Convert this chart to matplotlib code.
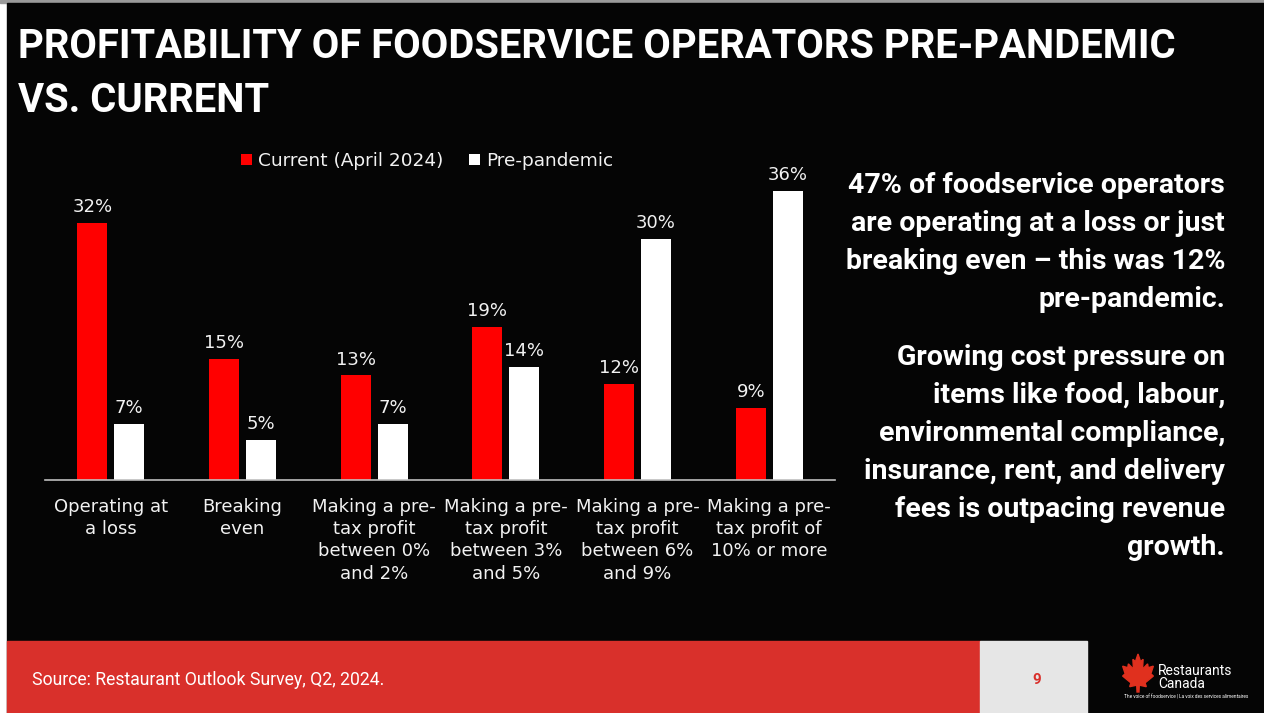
import matplotlib
matplotlib.use("Agg")
import matplotlib.pyplot as plt
from matplotlib.patches import Rectangle, Polygon
import numpy as np

categories = [
    "Operating at\na loss",
    "Breaking\neven",
    "Making a pre-\ntax profit\nbetween 0%\nand 2%",
    "Making a pre-\ntax profit\nbetween 3%\nand 5%",
    "Making a pre-\ntax profit\nbetween 6%\nand 9%",
    "Making a pre-\ntax profit of\n10% or more",
]
current = [32, 15, 13, 19, 12, 9]
pre_pandemic = [7, 5, 7, 14, 30, 36]
series_names = ["Current (April 2024)", "Pre-pandemic"]

title_lines = ["PROFITABILITY OF FOODSERVICE OPERATORS PRE-PANDEMIC", "VS. CURRENT"]
note_1 = [
    "47% of foodservice operators",
    "are operating at a loss or just",
    "breaking even \u2013 this was 12%",
    "pre-pandemic.",
]
note_2 = [
    "Growing cost pressure on",
    "items like food, labour,",
    "environmental compliance,",
    "insurance, rent, and delivery",
    "fees is outpacing revenue",
    "growth.",
]
source = "Source: Restaurant Outlook Survey, Q2, 2024."
page = "9"

W, H = 1264, 713
RED = "#ff0000"
BAND = "#d9302b"
TXT = "#f2f2f2"
HEAD = ["Roboto", "DejaVu Sans"]

fig = plt.figure(figsize=(W / 100, H / 100), dpi=100, facecolor="white")


def px(x, y):
    # pixel position (from top-left) to figure fraction
    return x / W, 1 - y / H


def box(x0, y0, w, h, color, z):
    fig.patches.append(Rectangle((x0 / W, y0 / H), w / W, h / H,
                                 transform=fig.transFigure, color=color, zorder=z))


# slide background, footer band and page box
box(0, H - 3, W, 3, "#9a9a9a", -10)
box(7, 0, W - 7, H - 3, "#050505", -10)
box(7, 0, 973, 72, BAND, -9)
box(980, 0, 107, 72, "#e6e6e6", -9)

# title
for i, line in enumerate(title_lines):
    fig.text(*px(18, 58 + i * 54), line, color="white", fontsize=28.85,
             fontweight="bold", family=HEAD, ha="left", va="baseline")

# bar chart
ax = fig.add_axes([45 / W, (H - 480) / H, 790 / W, 320 / H], zorder=5)
ax.set_facecolor("none")
x = np.arange(len(categories))
w = 0.228
b1 = ax.bar(x - 0.14, current, w, color=RED, label=series_names[0], zorder=2)
b2 = ax.bar(x + 0.14, pre_pandemic, w, color="white", label=series_names[1], zorder=2)
for bars, vals in ((b1, current), (b2, pre_pandemic)):
    for rect, v in zip(bars, vals):
        ax.annotate(f"{v}%", (rect.get_x() + rect.get_width() / 2, v),
                    xytext=(0, 5), textcoords="offset points",
                    ha="center", va="bottom", color=TXT, fontsize=13)

ax.set_xlim(-0.5, len(categories) - 0.5)
ax.set_ylim(0, 39.8)
ax.set_yticks([])
for s in ("top", "left", "right"):
    ax.spines[s].set_visible(False)
ax.spines["bottom"].set_color("#bfbfbf")
ax.spines["bottom"].set_linewidth(1.2)
ax.set_xticks(x)
ax.set_xticklabels(categories, color=TXT, fontsize=13, linespacing=1.3)
ax.tick_params(axis="x", length=0, pad=13)

fig.legend(handles=[b1, b2], loc="center", bbox_to_anchor=px(427, 161), ncol=2,
           frameon=False, fontsize=13.3, labelcolor=TXT, handlelength=0.6,
           handleheight=0.6, handletextpad=0.3, columnspacing=1.4)

# side notes
for i, line in enumerate(note_1):
    fig.text(*px(1225, 193 + i * 38), line, color="white", fontsize=20.5,
             fontweight="bold", family=HEAD, ha="right", va="baseline")
for i, line in enumerate(note_2):
    fig.text(*px(1225, 365 + i * 38), line, color="white", fontsize=20.5,
             fontweight="bold", family=HEAD, ha="right", va="baseline")

# footer
fig.text(*px(32, 680), source, color="white", fontsize=12.7, family=HEAD,
         ha="left", va="center")
fig.text(*px(1037, 680), page, color=BAND, fontsize=11, fontweight="bold",
         family=HEAD, ha="center", va="center")

# logo: maple leaf mark and wordmark
leaf = np.array([
    [0.50, 1.00], [0.42, 0.80], [0.34, 0.86], [0.36, 0.60], [0.20, 0.74],
    [0.18, 0.64], [0.02, 0.68], [0.10, 0.48], [0.02, 0.42], [0.28, 0.24],
    [0.24, 0.14], [0.46, 0.18], [0.47, 0.00], [0.53, 0.00], [0.54, 0.18],
    [0.76, 0.14], [0.72, 0.24], [0.98, 0.42], [0.90, 0.48], [0.98, 0.68],
    [0.82, 0.64], [0.80, 0.74], [0.64, 0.60], [0.66, 0.86], [0.58, 0.80],
])
lx, ly = px(1122, 692)
lw, lh = 32 / W, 38 / H
pts = np.column_stack([lx + leaf[:, 0] * lw, ly + leaf[:, 1] * lh])
fig.patches.append(Polygon(pts, closed=True, transform=fig.transFigure,
                           color="#e0301e", zorder=3))
fig.text(*px(1158, 671), "Restaurants", color="white", fontsize=10,
         family=HEAD, ha="left", va="center")
fig.text(*px(1158, 684), "Canada", color="white", fontsize=10,
         family=HEAD, ha="left", va="center")
fig.text(*px(1186, 697), "The voice of foodservice | La voix des services alimentaires",
         color="white", fontsize=3.4, family=HEAD, ha="center", va="center")

fig.savefig("out.png", dpi=100, facecolor=fig.get_facecolor())
